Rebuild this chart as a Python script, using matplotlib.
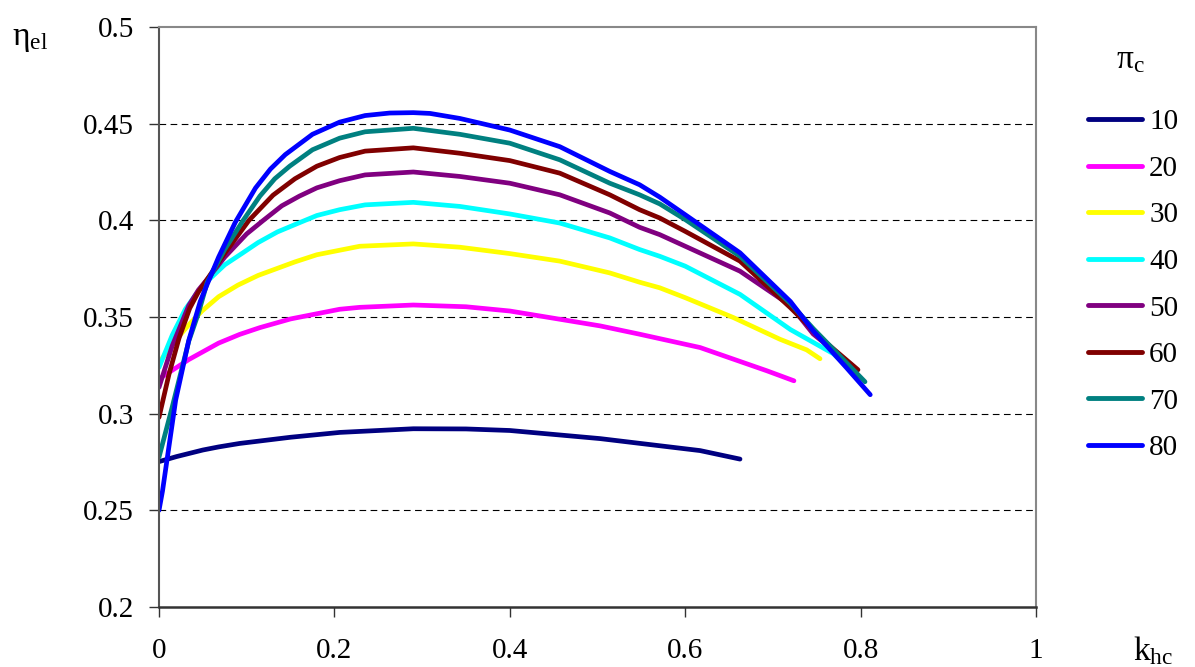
import matplotlib
matplotlib.use('Agg')
import matplotlib.pyplot as plt
from matplotlib.ticker import FormatStrFormatter

plt.rcParams['font.family'] = ['Liberation Serif', 'DejaVu Serif']
plt.rcParams['mathtext.default'] = 'regular'

# pressure ratio curves, efficiency vs k_hc
labels = ['10', '20', '30', '40', '50', '60', '70', '80']
colors = ['#000080', '#FF00FF', '#FFFF00', '#00FFFF', '#800080', '#800000', '#008080', '#0000FF']

x10 = [0, 0.02, 0.05, 0.068, 0.092, 0.15, 0.206, 0.29, 0.35, 0.4, 0.503, 0.617, 0.6625]
y10 = [0.2752, 0.2778, 0.2812, 0.2828, 0.2846, 0.2878, 0.2903, 0.2922, 0.2921, 0.2913, 0.2871, 0.2809, 0.2765]

x20 = [0, 0.034, 0.068, 0.092, 0.115, 0.15, 0.206, 0.229, 0.29, 0.35, 0.4, 0.503, 0.548, 0.617, 0.693, 0.724]
y20 = [0.318, 0.328, 0.3365, 0.341, 0.3445, 0.349, 0.354, 0.355, 0.3562, 0.3553, 0.3531, 0.3454, 0.3411, 0.3342, 0.3222, 0.317]

x30 = [0, 0.02, 0.035, 0.049, 0.068, 0.09, 0.113, 0.155, 0.18, 0.229, 0.29, 0.343, 0.4, 0.457, 0.514, 0.548, 0.571, 0.6, 0.655, 0.708, 0.7385, 0.7537]
y30 = [0.3265, 0.3385, 0.3465, 0.3531, 0.3605, 0.3665, 0.3715, 0.3785, 0.3822, 0.3866, 0.3878, 0.3861, 0.3828, 0.3789, 0.3728, 0.368, 0.3651, 0.36, 0.3497, 0.3385, 0.333, 0.3284]

x40 = [0, 0.015, 0.03, 0.045, 0.055, 0.075, 0.095, 0.113, 0.135, 0.155, 0.18, 0.206, 0.235, 0.29, 0.343, 0.4, 0.457, 0.514, 0.548, 0.571, 0.6, 0.6625, 0.72, 0.769, 0.783]
y40 = [0.3239, 0.3405, 0.354, 0.3635, 0.3685, 0.377, 0.383, 0.3885, 0.394, 0.3978, 0.4025, 0.4055, 0.408, 0.4093, 0.4072, 0.4033, 0.3986, 0.3909, 0.3849, 0.3814, 0.3763, 0.3617, 0.3435, 0.331, 0.325]

x50 = [0, 0.015, 0.034, 0.045, 0.055, 0.075, 0.1, 0.119, 0.14, 0.16, 0.18, 0.206, 0.235, 0.29, 0.343, 0.4, 0.457, 0.514, 0.548, 0.571, 0.6, 0.6625, 0.72, 0.746, 0.79]
y50 = [0.3136, 0.335, 0.356, 0.364, 0.3695, 0.381, 0.393, 0.4, 0.4075, 0.4125, 0.4168, 0.4205, 0.4235, 0.425, 0.4227, 0.4192, 0.4132, 0.4038, 0.3964, 0.3926, 0.3866, 0.3737, 0.356, 0.3412, 0.325]

x60 = [0, 0.0114, 0.0228, 0.035, 0.045, 0.055, 0.075, 0.1026, 0.13, 0.155, 0.18, 0.206, 0.235, 0.29, 0.343, 0.4, 0.457, 0.514, 0.548, 0.571, 0.6, 0.6625, 0.72, 0.76, 0.797]
y60 = [0.2981, 0.3204, 0.339, 0.3545, 0.363, 0.3695, 0.383, 0.4, 0.413, 0.4215, 0.428, 0.4325, 0.4358, 0.4375, 0.4347, 0.4309, 0.4244, 0.4132, 0.4055, 0.4012, 0.3943, 0.3789, 0.3548, 0.337, 0.3227]

x70 = [0, 0.015, 0.034, 0.045, 0.055, 0.075, 0.096, 0.115, 0.132, 0.149, 0.175, 0.206, 0.235, 0.29, 0.343, 0.4, 0.457, 0.514, 0.548, 0.571, 0.6, 0.6625, 0.72, 0.746, 0.805]
y70 = [0.2775, 0.3033, 0.3376, 0.352, 0.368, 0.385, 0.4, 0.4125, 0.4215, 0.428, 0.4365, 0.4425, 0.4458, 0.4476, 0.4445, 0.4399, 0.4313, 0.4192, 0.4132, 0.4085, 0.4004, 0.3814, 0.357, 0.344, 0.3165]

x80 = [0, 0.004, 0.019, 0.034, 0.047, 0.055, 0.068, 0.087, 0.11, 0.127, 0.144, 0.175, 0.206, 0.235, 0.263, 0.29, 0.309, 0.343, 0.4, 0.457, 0.514, 0.548, 0.571, 0.6, 0.6625, 0.72, 0.746, 0.784, 0.811]
y80 = [0.25, 0.26, 0.307, 0.338, 0.358, 0.367, 0.381, 0.399, 0.4167, 0.4265, 0.434, 0.4445, 0.4508, 0.4542, 0.4555, 0.4557, 0.4553, 0.4527, 0.4467, 0.4381, 0.4253, 0.4184, 0.412, 0.4029, 0.3832, 0.358, 0.3428, 0.3237, 0.3098]

xs = [x10, x20, x30, x40, x50, x60, x70, x80]
ys = [y10, y20, y30, y40, y50, y60, y70, y80]

xticks = [0, 0.2, 0.4, 0.6, 0.8, 1]
yticks = [0.2, 0.25, 0.3, 0.35, 0.4, 0.45, 0.5]

fig = plt.figure(figsize=(11.95, 6.67), dpi=100)
ax = fig.add_axes([159 / 1195, 1 - 607 / 667, 877 / 1195, 580 / 667])

for yg in yticks[1:-1]:
    ax.axhline(yg, color='black', lw=0.8, dashes=(6, 4), zorder=1)

for x, y, c, lab in zip(xs, ys, colors, labels):
    ax.plot(x, y, color=c, lw=3.4, label=lab, solid_capstyle='round', solid_joinstyle='round', zorder=2)

ax.set_xlim(0, 1)
ax.set_ylim(0.2, 0.5)
ax.set_xticks(xticks)
ax.set_yticks(yticks)
ax.xaxis.set_major_formatter(FormatStrFormatter('%g'))
ax.yaxis.set_major_formatter(FormatStrFormatter('%g'))
ax.tick_params(axis='both', direction='out', length=7, width=1, color='#333333', labelsize=21)
ax.tick_params(axis='y', pad=11)
ax.tick_params(axis='x', pad=15)

for s in ['top', 'right']:
    ax.spines[s].set_color('#888888')
    ax.spines[s].set_linewidth(1.5)
ax.spines['left'].set_color('#555555')
ax.spines['left'].set_linewidth(1.5)
ax.spines['bottom'].set_color('#333333')
ax.spines['bottom'].set_linewidth(1.8)

leg = ax.legend(loc='upper left', bbox_to_anchor=(1088 / 1195, 1 - 109 / 667),
                bbox_transform=fig.transFigure, frameon=False, fontsize=21,
                borderaxespad=0, borderpad=0, handlelength=1.85, handletextpad=0.25,
                labelspacing=0.69)
for h in leg.get_lines():
    h.set_linewidth(3.5)

fig.text(1130 / 1195, 1 - 60 / 667, 'π$_c$', fontsize=24, ha='center', va='center')
fig.text(1133 / 1195, 1 - 660 / 667, 'k$_{hc}$', fontsize=24, ha='left', va='baseline')
fig.text(12 / 1195, 1 - 45 / 667, 'η$_{el}$', fontsize=24, ha='left', va='baseline')

fig.savefig('out.png', dpi=100)
